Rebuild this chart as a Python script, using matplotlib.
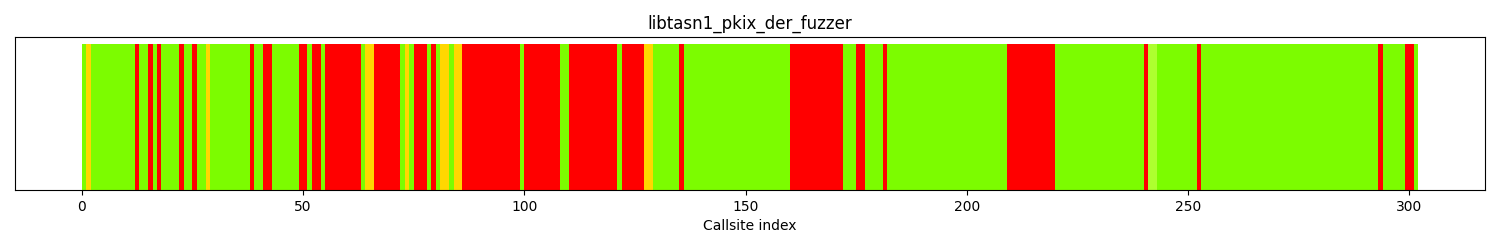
import matplotlib
matplotlib.use("Agg")
import matplotlib.pyplot as plt

title = "libtasn1_pkix_der_fuzzer"
xlabel = "Callsite index"

# coverage status per run of consecutive callsites
run_status = [
    "G", "Y", "G", "R", "G", "R", "G", "R", "G", "R",
    "G", "R", "G", "Y", "G", "R", "G", "R", "G", "R",
    "G", "R", "G", "R", "G", "Y", "R", "G", "Y", "G",
    "R", "G", "R", "G", "Y", "G", "Y", "R", "G", "R",
    "G", "R", "G", "R", "Y", "G", "R", "G", "R", "G",
    "R", "G", "R", "G", "R", "G", "R", "GY", "G", "R",
    "G", "R", "G", "R", "G",
]
run_length = [
    1, 1, 10, 1, 2, 1, 1, 1, 4, 1,
    2, 1, 2, 1, 9, 1, 2, 2, 6, 2,
    1, 2, 1, 8, 1, 2, 6, 1, 1, 1,
    3, 1, 1, 1, 2, 1, 2, 13, 1, 8,
    2, 11, 1, 5, 2, 6, 1, 24, 12, 3,
    2, 4, 1, 27, 11, 20, 1, 2, 9, 1,
    40, 1, 5, 2, 1,
]

status_colors = {"G": "lawngreen", "R": "red", "Y": "gold", "GY": "greenyellow"}

statuses = []
for s, n in zip(run_status, run_length):
    statuses.extend([s] * n)

x = list(range(len(statuses)))
heights = [1] * len(statuses)
colors = [status_colors[s] for s in statuses]

fig, ax = plt.subplots(figsize=(15, 2.5), dpi=100)
ax.bar(x, heights, width=1.0, align="edge", color=colors, linewidth=0)
ax.set_title(title)
ax.set_xlabel(xlabel)
ax.set_yticks([])
fig.subplots_adjust(left=0.01, right=0.99, top=0.852, bottom=0.24)
fig.savefig("out.png")
